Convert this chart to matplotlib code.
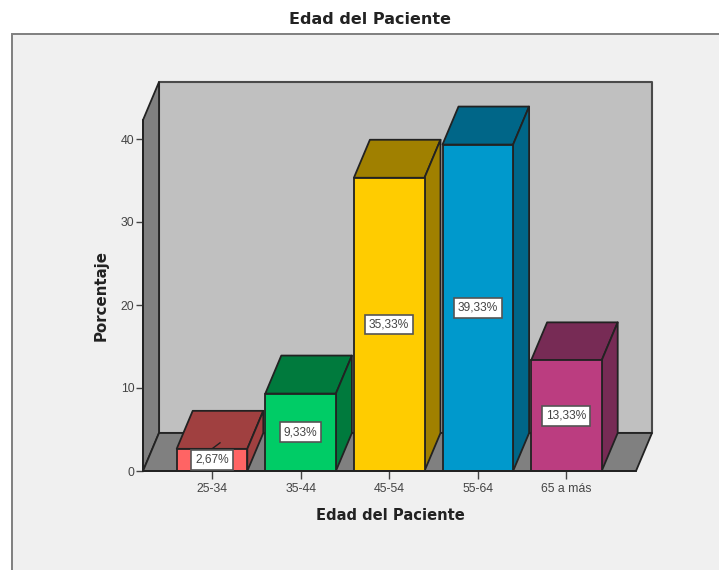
import matplotlib
matplotlib.use("Agg")
import matplotlib.pyplot as plt
from matplotlib.patches import Polygon, Rectangle

categories = ["25-34", "35-44", "45-54", "55-64", "65 a más"]
percentages = [2.67, 9.33, 35.33, 39.33, 13.33]
front_colors = ["#FF6464", "#00CC66", "#FFCC00", "#0099CC", "#BB3D80"]
top_colors = ["#A04040", "#007A3D", "#A08000", "#006688", "#772B55"]
y_ticks = [0, 10, 20, 30, 40]
chart_title = "Edad del Paciente"
x_title = "Edad del Paciente"
y_title = "Porcentaje"

W, H = 719, 570
plt.rcParams["font.family"] = ["Liberation Sans", "DejaVu Sans"]
fig = plt.figure(figsize=(W / 100, H / 100), dpi=100, facecolor="white")

# Light grey panel running off the right and bottom edges
fig.add_artist(Rectangle((12 / W, -0.02), 1.0, 1 - 34 / H + 0.02, transform=fig.transFigure,
                         facecolor="#F0F0F0", edgecolor="#7F7F7F", linewidth=1.4, zorder=-1))
fig.text(370 / W, 1 - 20 / H, chart_title, ha="center", va="center", family="DejaVu Sans",
         fontsize=11.5, fontweight="bold", color="#222222")

# Axes box spans the front plane of the 3D scene
left, right, bottom, top = 143, 636, 471, 120
ax = fig.add_axes([left / W, 1 - bottom / H, (right - left) / W, (bottom - top) / H])
ax.patch.set_visible(False)
px_per_cat, px_per_unit = 88.6, 8.3
ax.set_xlim((left - 212) / px_per_cat, (right - 212) / px_per_cat)
ax.set_ylim(0, (bottom - top) / px_per_unit)
x0, x1 = ax.get_xlim()
y1 = ax.get_ylim()[1]
depth_x, depth_y = 16 / px_per_cat, 38 / px_per_unit
half = 35.3 / px_per_cat
edge = "#222222"
wall_edge = "#4A4A4A"


def face(points, color, z, line=edge, lw=1.3):
    ax.add_patch(Polygon(points, closed=True, facecolor=color, edgecolor=line,
                         linewidth=lw, joinstyle="round", clip_on=False, zorder=z))


# Walls and floor of the box
face([(x0 + depth_x, depth_y), (x1 + depth_x, depth_y), (x1 + depth_x, y1 + depth_y),
      (x0 + depth_x, y1 + depth_y)], "#C0C0C0", 1, wall_edge, 1.5)
face([(x0, 0), (x0 + depth_x, depth_y), (x0 + depth_x, y1 + depth_y), (x0, y1)], "#808080", 1)
face([(x0, 0), (x1, 0), (x1 + depth_x, depth_y), (x0 + depth_x, depth_y)], "#808080", 1)

# Extruded bars, left to right so each one overlaps its neighbour's side
for i, (v, fc, tc) in enumerate(zip(percentages, front_colors, top_colors)):
    z = 3 + i
    a, b = i - half, i + half
    ax.bar(i, v, width=2 * half, color=fc, edgecolor=edge, linewidth=1.3, zorder=z + 0.2)
    face([(a, v), (b, v), (b + depth_x, v + depth_y), (a + depth_x, v + depth_y)], tc, z)
    face([(b, 0), (b + depth_x, depth_y), (b + depth_x, v + depth_y), (b, v)], tc, z)
    ax.text(i, v / 2, f"{v:.2f}%".replace(".", ","), ha="center", va="center",
            fontsize=8.6, color="#444444", zorder=20,
            bbox=dict(boxstyle="square,pad=0.32", facecolor="white",
                      edgecolor="#555555", linewidth=1.2))

# Short leader stroke above the smallest bar's label
ax.plot([0, 8 / px_per_cat], [percentages[0], percentages[0] + 6 / px_per_unit],
        color=edge, lw=1, zorder=10)

for side in ("top", "right"):
    ax.spines[side].set_visible(False)
for side in ("left", "bottom"):
    ax.spines[side].set_color("#222222")
    ax.spines[side].set_linewidth(1.3)
    ax.spines[side].set_zorder(15)

ax.set_xticks(range(len(categories)), categories)
ax.set_yticks(y_ticks)
ax.tick_params(axis="both", length=5, width=1, color="#444444", labelcolor="#444444",
               labelsize=8.8)
ax.tick_params(axis="x", length=5.5, pad=3.5)
ax.tick_params(axis="y", pad=1.2)

fig.text(390 / W, 1 - 515 / H, x_title, ha="center", va="center", family="DejaVu Sans",
         fontsize=10.6, fontweight="bold", color="#222222")
fig.text(101 / W, 1 - 296 / H, y_title, ha="center", va="center", rotation=90,
         family="DejaVu Sans", fontsize=10.8, fontweight="bold", color="#222222")

fig.savefig("out.png", dpi=100, facecolor="white")
